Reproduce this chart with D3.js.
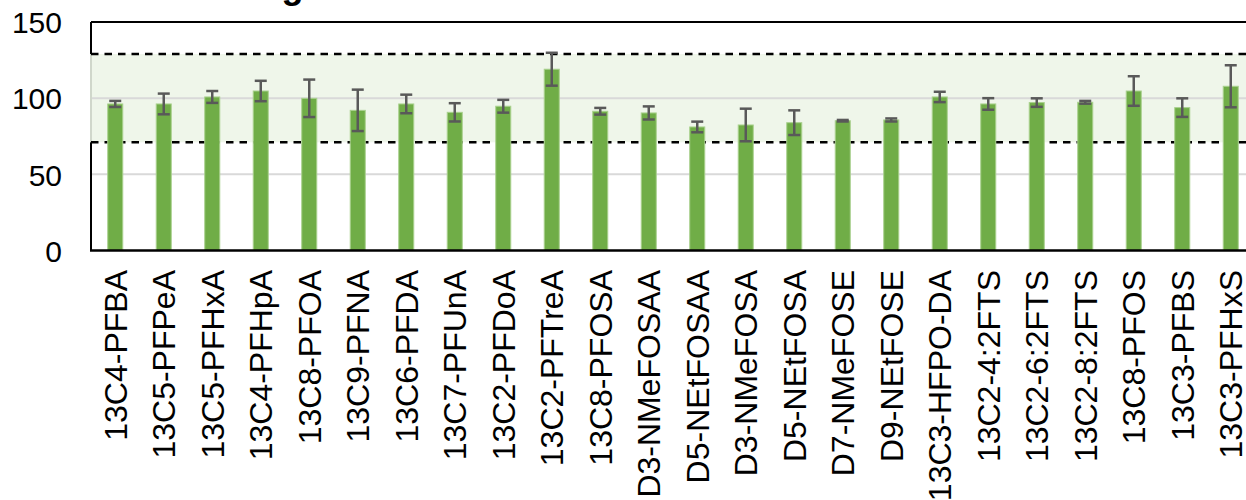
<!DOCTYPE html>
<html>
<head>
<meta charset="utf-8">
<script src="https://cdn.jsdelivr.net/npm/d3@7"></script>
<style>
  html, body { margin: 0; padding: 0; background: #fff; overflow: hidden; }
  svg { display: block; font-family: "Liberation Sans", Arial, sans-serif; }
</style>
</head>
<body>
<svg id="chart" width="1246" height="500"></svg>
<script>
// Recovery (%) of each labelled internal standard, mean and +/- spread
const categories = [
  "13C4-PFBA", "13C5-PFPeA", "13C5-PFHxA", "13C4-PFHpA", "13C8-PFOA",
  "13C9-PFNA", "13C6-PFDA", "13C7-PFUnA", "13C2-PFDoA", "13C2-PFTreA",
  "13C8-PFOSA", "D3-NMeFOSAA", "D5-NEtFOSAA", "D3-NMeFOSA", "D5-NEtFOSA",
  "D7-NMeFOSE", "D9-NEtFOSE", "13C3-HFPO-DA", "13C2-4:2FTS", "13C2-6:2FTS",
  "13C2-8:2FTS", "13C8-PFOS", "13C3-PFBS", "13C3-PFHxS"
];
const recovery = [
  96.2, 96.2, 100.8, 104.7, 99.9,
  92.0, 96.2, 90.7, 94.7, 119.0,
  91.4, 90.3, 81.1, 82.4, 83.9,
  85.2, 85.7, 100.8, 96.2, 97.1,
  97.3, 104.7, 93.8, 107.8
];
const spread = [
  2.0, 6.8, 3.9, 6.7, 12.3,
  13.6, 6.1, 6.0, 4.2, 10.8,
  2.2, 4.3, 3.5, 10.7, 8.1,
  0.5, 1.0, 3.4, 3.8, 2.8,
  0.9, 9.7, 6.1, 13.8
];
const yTicks = [0, 50, 100, 150];
const limits = [71, 129];          // lower / upper acceptance limits
const titleText = "EIS Average";

const svg = d3.select("#chart");
const plotLeft = 91, plotTop = 22, plotBottom = 250.5;
const step = 48.5;
const plotRight = plotLeft + step * categories.length;

const x = d3.scaleBand()
  .domain(categories)
  .range([plotLeft, plotRight])
  .paddingInner(0.69)
  .paddingOuter(0.345);

const y = d3.scaleLinear().domain([0, 150]).range([plotBottom, plotTop]);

// Title (sits mostly above the visible area)
svg.append("text")
  .attr("x", 116)
  .attr("y", -2.5)
  .attr("font-size", 36)
  .attr("font-weight", "bold")
  .attr("fill", "#000")
  .text(titleText);

// Plot frame: left and top borders
svg.append("line")
  .attr("x1", plotLeft).attr("x2", plotLeft)
  .attr("y1", plotTop).attr("y2", plotBottom)
  .attr("stroke", "#000").attr("stroke-width", 2);
svg.append("line")
  .attr("x1", plotLeft).attr("x2", plotRight)
  .attr("y1", plotTop).attr("y2", plotTop)
  .attr("stroke", "#000").attr("stroke-width", 2);

// Acceptance band
svg.append("rect")
  .attr("x", plotLeft - 1)
  .attr("y", y(limits[1]))
  .attr("width", plotRight - plotLeft + 1)
  .attr("height", y(limits[0]) - y(limits[1]))
  .attr("fill", "#EDF5E7")
  .attr("fill-opacity", 0.88);

// Horizontal gridlines
svg.append("g")
  .selectAll("line")
  .data(yTicks.filter(t => t > 0 && t < 150))
  .join("line")
  .attr("x1", plotLeft + 1).attr("x2", plotRight)
  .attr("y1", d => y(d)).attr("y2", d => y(d))
  .attr("stroke", "#D9D9D9").attr("stroke-width", 2);

// Dashed limit lines
svg.append("g")
  .selectAll("line")
  .data(limits)
  .join("line")
  .attr("x1", plotLeft).attr("x2", plotRight)
  .attr("y1", d => y(d)).attr("y2", d => y(d))
  .attr("stroke", "#000").attr("stroke-width", 2.5)
  .attr("stroke-dasharray", "7.5,6");

// Y axis labels
const yAxis = d3.axisLeft(y).tickValues(yTicks).tickSize(0).tickPadding(29);
const gy = svg.append("g").attr("transform", `translate(${plotLeft},0)`).call(yAxis);
gy.select(".domain").remove();
gy.selectAll("text")
  .attr("font-size", 30)
  .attr("font-family", "'Liberation Sans', Arial, sans-serif")
  .attr("fill", "#000")
  .attr("dy", "0.36em");

// Bars
svg.append("g")
  .selectAll("rect")
  .data(categories)
  .join("rect")
  .attr("x", d => x(d))
  .attr("y", (d, i) => y(recovery[i]))
  .attr("width", x.bandwidth())
  .attr("height", (d, i) => plotBottom - y(recovery[i]))
  .attr("fill", "#70AD47")
  .attr("stroke", "#A9D18E")
  .attr("stroke-width", 1);

// Error bars
const eb = svg.append("g")
  .attr("stroke", "#595959")
  .attr("stroke-width", 2.5);
const cap = 6;
categories.forEach((c, i) => {
  const cx = x(c) + x.bandwidth() / 2;
  const hi = y(recovery[i] + spread[i]);
  const lo = y(recovery[i] - spread[i]);
  eb.append("line").attr("x1", cx).attr("x2", cx).attr("y1", hi).attr("y2", lo);
  eb.append("line").attr("x1", cx - cap).attr("x2", cx + cap).attr("y1", hi).attr("y2", hi);
  eb.append("line").attr("x1", cx - cap).attr("x2", cx + cap).attr("y1", lo).attr("y2", lo);
});

// Bottom axis line
svg.append("line")
  .attr("x1", plotLeft - 1).attr("x2", plotRight)
  .attr("y1", plotBottom).attr("y2", plotBottom)
  .attr("stroke", "#000").attr("stroke-width", 2.5);

// Category labels, rotated
svg.append("g")
  .selectAll("text")
  .data(categories)
  .join("text")
  .attr("transform", d => `translate(${x(d) + x.bandwidth() / 2},270) rotate(-90)`)
  .attr("text-anchor", "end")
  .attr("dy", "0.36em")
  .attr("font-size", 32)
  .attr("fill", "#000")
  .text(d => d);
</script>
</body>
</html>
